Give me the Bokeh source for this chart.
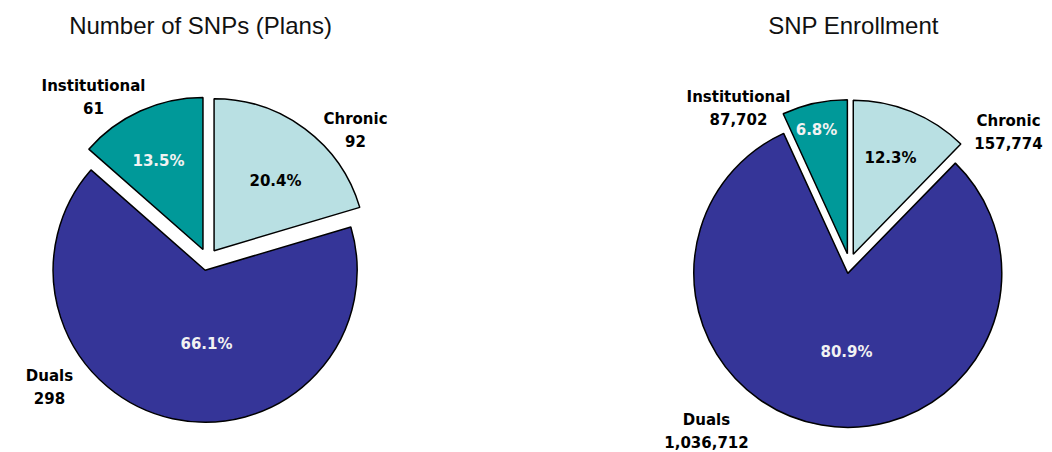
import math
from bokeh.plotting import figure
from bokeh.models import Range1d, ColumnDataSource
from bokeh.core.properties import value
from bokeh.embed import file_html
from bokeh.resources import INLINE

# ---- data ----
categories = ["Chronic", "Duals", "Institutional"]
plans = [92, 298, 61]
enrollment = [157774, 1036712, 87702]
titles = ["Number of SNPs (Plans)", "SNP Enrollment"]
colors = ["#B9E0E3", "#353598", "#009999"]
pct_text_colors = ["#000000", "#F2F2F2", "#F2F2F2"]

# ---- layout (screen px) ----
W, H = 1052, 452
pies = [
    dict(cx=207, cy=259, r=152, explode=11, title_xy=(200, 25),
         pct_off=[(68, -79), (-1, 84), (-49, -99)],
         lab_off=[(148, -129), (-158, 128), (-114, -162)]),
    dict(cx=849, cy=263, r=154, explode=10, title_xy=(853, 25),
         pct_off=[(41, -106), (-3, 88), (-33, -134)],
         lab_off=[(159, -131), (-143, 168), (-111, -155)]),
]

p = figure(width=W, height=H, x_range=Range1d(0, W), y_range=Range1d(0, H),
           output_backend="svg", toolbar_location=None, min_border=0)
p.axis.visible = False
p.grid.visible = False
p.outline_line_color = None
p.background_fill_color = "white"

LBL_FONT = value("DejaVu Sans")
TITLE_FONT = value("Liberation Sans")

for pie, vals, title in zip(pies, [plans, enrollment], titles):
    total = float(sum(vals))
    fr = [v / total for v in vals]
    cum = 0.0
    xs, ys, sa, ea = [], [], [], []
    for f in fr:
        a, b = cum, cum + f
        cum = b
        mid = math.radians(90 - 360 * (a + b) / 2)
        xs.append(pie["cx"] + pie["explode"] * math.cos(mid))
        ys.append((H - pie["cy"]) + pie["explode"] * math.sin(mid))
        sa.append(math.radians(90 - 360 * b))
        ea.append(math.radians(90 - 360 * a))
    src = ColumnDataSource(dict(x=xs, y=ys, sa=sa, ea=ea, color=colors))
    p.wedge(x="x", y="y", radius=pie["r"], start_angle="sa", end_angle="ea",
            fill_color="color", line_color="black", line_width=1.5, source=src)

    # percentage labels
    px = [pie["cx"] + o[0] for o in pie["pct_off"]]
    py = [H - (pie["cy"] + o[1]) for o in pie["pct_off"]]
    ptxt = ["%.1f%%" % (100 * f) for f in fr]
    p.text(x=px, y=py, text=ptxt, text_color=pct_text_colors,
           text_font=LBL_FONT, text_font_style="bold", text_font_size="15px",
           text_align="center", text_baseline="middle")

    # category labels
    lx = [pie["cx"] + o[0] for o in pie["lab_off"]]
    ly = [H - (pie["cy"] + o[1]) for o in pie["lab_off"]]
    ltxt = ["%s\n%s" % (c, format(v, ",")) for c, v in zip(categories, vals)]
    p.text(x=lx, y=ly, text=ltxt, text_color="black",
           text_font=LBL_FONT, text_font_style="bold", text_font_size="15px",
           text_align="center", text_baseline="middle", text_line_height=1.25)

    p.text(x=[pie["title_xy"][0]], y=[H - pie["title_xy"][1]], text=[title],
           text_color="#111111", text_font=TITLE_FONT, text_font_size="24px",
           text_align="center", text_baseline="middle")

open("out.html", "w").write(file_html(p, INLINE))
